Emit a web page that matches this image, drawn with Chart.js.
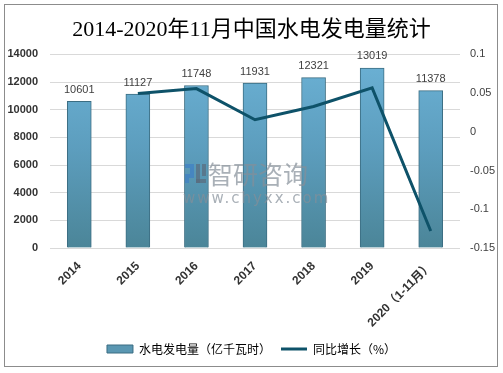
<!DOCTYPE html>
<html>
<head>
<meta charset="utf-8">
<script src="https://cdn.jsdelivr.net/npm/chart.js@4"></script>
<style>
  html, body { margin: 0; padding: 0; background: #fff; }
  #wrap { width: 503px; height: 373px; position: relative; }
</style>
</head>
<body>
<div id="wrap"><canvas id="chart" width="503" height="373"></canvas></div>
<script>
// 2014-2020 hydro output (bars, left axis) and YoY growth (line, right axis)
const years = ['2014', '2015', '2016', '2017', '2018', '2019', '2020（1-11月）'];
const output = [10601, 11127, 11748, 11931, 12321, 13019, 11378];
const growth = [null, 0.0496, 0.0558, 0.0156, 0.0327, 0.0567, -0.128];
const leftTicks = [0, 2000, 4000, 6000, 8000, 10000, 12000, 14000];
const rightTicks = [-0.15, -0.1, -0.05, 0, 0.05, 0.1];

const CJK = '"Noto Sans CJK SC", "DejaVu Sans", sans-serif';

function barFill(c) {
  const area = c.chart.chartArea;
  if (!area) return '#5a9ab8';
  const g = c.chart.ctx.createLinearGradient(0, area.top, 0, area.bottom);
  g.addColorStop(0, '#6cb2d6');
  g.addColorStop(0.5, '#5c9dbd');
  g.addColorStop(1, '#4b8598');
  return g;
}

// value labels above each bar
const barLabels = {
  id: 'barLabels',
  afterDatasetsDraw(chart) {
    const ctx = chart.ctx;
    const meta = chart.getDatasetMeta(1);
    ctx.save();
    ctx.font = '11px "Liberation Sans", Arial, sans-serif';
    ctx.fillStyle = '#404040';
    ctx.textAlign = 'center';
    ctx.textBaseline = 'bottom';
    meta.data.forEach((bar, i) => {
      ctx.fillText(String(output[i]), bar.x, bar.y - 6);
    });
    ctx.restore();
  },
};

// frame + watermark
const decor = {
  id: 'decor',
  beforeDraw(chart) {
    const ctx = chart.ctx;
    ctx.save();
    ctx.fillStyle = '#fff';
    ctx.fillRect(0, 0, chart.width, chart.height);
    ctx.restore();
  },
  afterDraw(chart) {
    const ctx = chart.ctx;
    ctx.save();
    ctx.strokeStyle = '#8c8c8c';
    ctx.lineWidth = 1;
    ctx.strokeRect(4.5, 4.5, 493, 362);

    ctx.globalAlpha = 0.7;
    // logo
    ctx.fillStyle = '#3f7fc4';
    ctx.fillRect(185, 164, 9, 4);
    ctx.fillRect(190, 168, 4, 6);
    ctx.fillRect(185, 174, 9, 4);
    ctx.fillRect(185, 178, 4, 5);
    ctx.fillStyle = '#5a6b7c';
    ctx.fillRect(196, 164, 4, 19);
    ctx.fillRect(196, 179, 10, 4);
    ctx.fillRect(202, 164, 4, 12);
    // text
    ctx.fillStyle = '#858f99';
    ctx.font = '25px ' + CJK;
    ctx.textBaseline = 'middle';
    ctx.textAlign = 'left';
    ctx.fillText('智研咨询', 208, 174);
    ctx.font = '15px "DejaVu Sans", sans-serif';
    ctx.letterSpacing = '2px';
    ctx.fillText('www.chyxx.com', 183, 199);
    ctx.restore();
  },
};

new Chart(document.getElementById('chart'), {
  data: {
    labels: years,
    datasets: [
      {
        type: 'line',
        label: '同比增长（%）',
        data: growth,
        yAxisID: 'y1',
        borderColor: '#0e5269',
        backgroundColor: '#0e5269',
        borderWidth: 3,
        pointRadius: 0,
        tension: 0,
        order: 0,
      },
      {
        type: 'bar',
        label: '水电发电量（亿千瓦时）',
        data: output,
        yAxisID: 'y',
        backgroundColor: barFill,
        borderColor: '#3b6d82',
        borderWidth: 1,
        barThickness: 24,
        order: 1,
      },
    ],
  },
  options: {
    responsive: false,
    animation: false,
    layout: { padding: { left: 0, right: 0, top: 0, bottom: 8 } },
    plugins: {
      title: {
        display: true,
        text: '2014-2020年11月中国水电发电量统计',
        color: '#000',
        font: { size: 22, family: '"Liberation Serif", ' + CJK, weight: 'normal' },
        padding: { top: 17, bottom: 11 },
      },
      legend: {
        position: 'bottom',
        labels: {
          usePointStyle: true,
          pointStyleWidth: 26,
          boxHeight: 8,
          padding: 10,
          color: '#333',
          font: { size: 12, family: CJK },
          generateLabels(chart) {
            return [
              { text: '水电发电量（亿千瓦时）', fillStyle: '#5a97b2', strokeStyle: '#3b6d82',
                lineWidth: 1, pointStyle: 'rect', datasetIndex: 1 },
              { text: '同比增长（%）', fillStyle: '#0e5269', strokeStyle: '#0e5269',
                lineWidth: 3, pointStyle: 'line', datasetIndex: 0 },
            ];
          },
        },
      },
      tooltip: { enabled: false },
    },
    scales: {
      x: {
        grid: { display: false },
        border: { display: false },
        ticks: {
          maxRotation: 45, minRotation: 45,
          color: '#333',
          font: { size: 12, weight: 'bold', family: '"Liberation Sans", Arial, ' + CJK },
        },
        afterFit(s) { s.height = 85; },
      },
      y: {
        position: 'left',
        min: 0, max: 14000,
        afterBuildTicks(s) { s.ticks = leftTicks.map((v) => ({ value: v })); },
        grid: { color: '#d9d9d9', drawTicks: false },
        border: { display: false },
        ticks: {
          padding: 12,
          color: '#333',
          font: { size: 11, weight: 'bold', family: '"Liberation Sans", Arial, sans-serif' },
          callback: (v) => String(v),
        },
        afterFit(s) { s.width = 50; },
      },
      y1: {
        position: 'right',
        min: -0.15, max: 0.1,
        afterBuildTicks(s) { s.ticks = rightTicks.map((v) => ({ value: v })); },
        grid: { display: false, drawTicks: false },
        border: { display: false },
        ticks: {
          padding: 10,
          color: '#404040',
          font: { size: 11, family: '"Liberation Sans", Arial, sans-serif' },
          callback: (v) => String(Math.round(v * 100) / 100),
        },
        afterFit(s) { s.width = 43; },
      },
    },
  },
  plugins: [decor, barLabels],
});
</script>
</body>
</html>
